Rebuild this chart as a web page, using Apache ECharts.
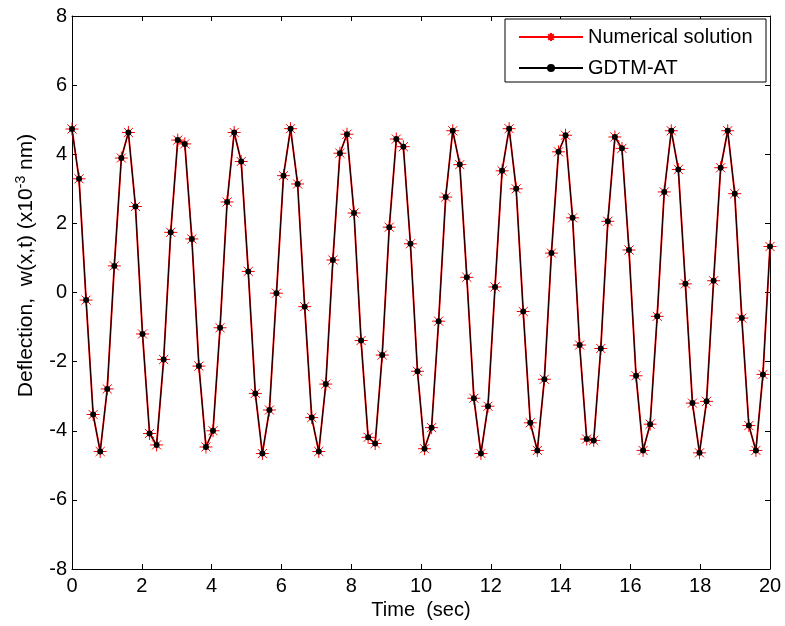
<!DOCTYPE html>
<html>
<head>
<meta charset="utf-8">
<script src="https://cdn.jsdelivr.net/npm/echarts@6/dist/echarts.min.js"></script>
<style>
html, body { margin: 0; padding: 0; background: #fff; }
#chart { width: 785px; height: 626px; }
</style>
</head>
<body>
<div id="chart"></div>
<script>
// time grid: 100 samples from 0 to 20 s
var tStart = 0;
var tEnd = 20;
var yMin = -8;
var yMax = 8;

// deflection (x10^-3 nm)
var numerical = [
    4.73, 3.29, -0.22, -3.53, -4.60, -2.79, 0.77, 3.89, 4.63, 2.49,
    -1.20, -4.08, -4.41, -1.94, 1.74, 4.41, 4.30, 1.55, -2.13, -4.47,
    -4.00, -1.02, 2.62, 4.63, 3.79, 0.61, -2.92, -4.66, -3.40, -0.02,
    3.38, 4.74, 3.14, -0.41, -3.62, -4.60, -2.65, 0.94, 4.03, 4.58,
    2.30, -1.39, -4.19, -4.37, -1.81, 1.89, 4.44, 4.22, 1.41, -2.28,
    -4.52, -3.91, -0.83, 2.76, 4.68, 3.70, 0.44, -3.06, -4.66, -3.29,
    0.16, 3.52, 4.74, 3.00, -0.55, -3.77, -4.57, -2.51, 1.14, 4.07,
    4.55, 2.16, -1.52, -4.24, -4.28, -1.62, 2.06, 4.50, 4.17, 1.23,
    -2.41, -4.57, -3.81, -0.69, 2.91, 4.68, 3.56, 0.25, -3.20, -4.64,
    -3.15, 0.34, 3.61, 4.68, 2.86, -0.74, -3.85, -4.57, -2.37, 1.33
];
// GDTM-AT sits on top of the numerical curve at this resolution
var gdtmAt = numerical.slice();

var step = (tEnd - tStart) / (numerical.length - 1);
function pairs(arr){
    var res = [];
    for(var i = 0; i < arr.length; i++){
        res.push([tStart + i * step, arr[i]]);
    }
    return res;
}

var font = 'Arial, "Liberation Sans", sans-serif';
// matlab '*' marker
var starPath = 'path://M5,0L5,10M0,5L10,5M1.5,1.5L8.5,8.5M1.5,8.5L8.5,1.5';

// plain top / right axes to close the box
function boxAxis(pos, isX){
    return {
        type: 'value',
        position: pos,
        min: isX ? tStart : yMin,
        max: isX ? tEnd : yMax,
        interval: 2,
        axisLine: { show: true, onZero: false, lineStyle: { color: '#000', width: 1 } },
        axisTick: { show: true, inside: true, length: 5, lineStyle: { color: '#000' } },
        axisLabel: { show: false },
        splitLine: { show: false }
    };
}

var chart = echarts.init(document.getElementById('chart'));
var option = {
    animation: false,
    backgroundColor: '#fff',
    grid: { left: 72, right: 15, top: 16, bottom: 57, containLabel: false },
    legend: {
        orient: 'vertical',
        left: 505,
        top: 19,
        padding: [8, 10, 4, 13],
        backgroundColor: '#fff',
        borderColor: '#000',
        borderWidth: 1,
        borderRadius: 0,
        itemWidth: 64,
        itemHeight: 10,
        itemGap: 11,
        textStyle: { fontFamily: font, fontSize: 20, lineHeight: 20, color: '#000', width: 168 },
        data: ['Numerical solution', 'GDTM-AT']
    },
    xAxis: [
        {
            type: 'value',
            min: tStart,
            max: tEnd,
            interval: 2,
            name: 'Time  (sec)',
            nameLocation: 'middle',
            nameGap: 31,
            nameTextStyle: { fontFamily: font, fontSize: 20, color: '#000' },
            axisLine: { show: true, onZero: false, lineStyle: { color: '#000', width: 1 } },
            axisTick: { show: true, inside: true, length: 5, lineStyle: { color: '#000' } },
            axisLabel: { fontFamily: font, fontSize: 20, color: '#000', margin: 7 },
            splitLine: { show: false }
        },
        boxAxis('top', true)
    ],
    yAxis: [
        {
            type: 'value',
            min: yMin,
            max: yMax,
            interval: 2,
            name: '{a|Deflection,  w(x,t) (x10}{s|-3}{a| nm)}',
            nameLocation: 'middle',
            nameRotate: 90,
            nameGap: 34,
            nameTextStyle: {
                padding: [0, 0, 0, 54],
                rich: {
                    a: { fontFamily: font, fontSize: 21, color: '#000' },
                    s: { fontFamily: font, fontSize: 14, color: '#000', verticalAlign: 'top', padding: [0, 0, 10, 0] }
                }
            },
            axisLine: { show: true, onZero: false, lineStyle: { color: '#000', width: 1 } },
            axisTick: { show: true, inside: true, length: 5, lineStyle: { color: '#000' } },
            axisLabel: { fontFamily: font, fontSize: 20, color: '#000', margin: 5 },
            splitLine: { show: false }
        },
        boxAxis('right', false)
    ],
    series: [
        {
            name: 'Numerical solution',
            type: 'line',
            data: pairs(numerical),
            symbol: starPath,
            symbolSize: 13,
            showAllSymbol: true,
            lineStyle: { color: '#ff0000', width: 1.8 },
            itemStyle: { color: '#ff0000', borderColor: '#ff0000', borderWidth: 1 },
            z: 2
        },
        {
            name: 'GDTM-AT',
            type: 'line',
            data: pairs(gdtmAt),
            symbol: 'circle',
            symbolSize: 6,
            showAllSymbol: true,
            lineStyle: { color: '#000', width: 1 },
            itemStyle: { color: '#000', borderColor: '#000', borderWidth: 0 },
            z: 3
        }
    ]
};
chart.setOption(option);
</script>
</body>
</html>
